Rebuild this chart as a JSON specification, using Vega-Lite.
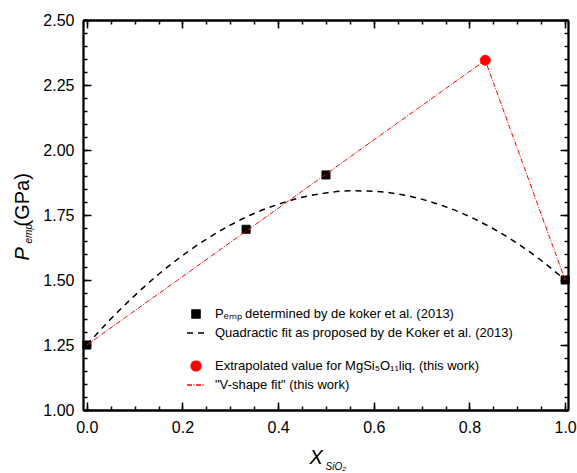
{
  "$schema": "https://vega.github.io/schema/vega-lite/v6.json",
  "width": 485,
  "height": 390,
  "autosize": {"type": "none"},
  "padding": {"left": 83, "top": 20, "right": 9, "bottom": 63},
  "background": "white",
  "config": {
    "view": {"stroke": null},
    "font": "Liberation Sans",
    "axis": {
      "grid": false,
      "domainColor": "black",
      "domainWidth": 1.8,
      "tickColor": "black",
      "tickWidth": 1.5,
      "labelFont": "Liberation Sans",
      "labelFontSize": 16,
      "labelColor": "black",
      "titleFont": "Liberation Sans",
      "titleColor": "black",
      "titleFontWeight": "normal"
    }
  },
  "resolve": {
    "axis": {"x": "independent", "y": "independent"},
    "scale": {"fill": "independent", "stroke": "independent", "shape": "independent", "strokeDash": "independent"},
    "legend": {"fill": "independent", "stroke": "independent", "shape": "independent", "strokeDash": "independent"}
  },
  "layer": [
    {
      "data": {"values": [
        {"x": 0, "y": 1.25}, {"x": 0.05, "y": 1.35}, {"x": 0.1, "y": 1.44}, {"x": 0.15, "y": 1.522},
        {"x": 0.2, "y": 1.594}, {"x": 0.25, "y": 1.657}, {"x": 0.3, "y": 1.711}, {"x": 0.35, "y": 1.756},
        {"x": 0.4, "y": 1.791}, {"x": 0.45, "y": 1.818}, {"x": 0.5, "y": 1.835}, {"x": 0.55, "y": 1.843},
        {"x": 0.6, "y": 1.841}, {"x": 0.65, "y": 1.831}, {"x": 0.7, "y": 1.811}, {"x": 0.75, "y": 1.782},
        {"x": 0.8, "y": 1.744}, {"x": 0.85, "y": 1.697}, {"x": 0.9, "y": 1.641}, {"x": 0.95, "y": 1.575},
        {"x": 1, "y": 1.5}
      ]},
      "mark": {"type": "line", "color": "black", "strokeWidth": 1.5, "strokeDash": [6, 5], "interpolate": "monotone"},
      "encoding": {
        "x": {"field": "x", "type": "quantitative",
          "scale": {"domain": [-0.008, 1.006], "nice": false, "zero": false},
          "axis": {"orient": "bottom", "values": [0, 0.2, 0.4, 0.6, 0.8, 1], "format": ".1f",
            "tickSize": -8, "labelPadding": 17,
            "title": "X", "titleFontSize": 20, "titleFontStyle": "italic",
            "titleX": 226, "titleY": 53, "titleAlign": "left", "titleBaseline": "alphabetic", "titleAngle": 0}},
        "y": {"field": "y", "type": "quantitative",
          "scale": {"domain": [1, 2.5], "nice": false, "zero": false},
          "axis": {"orient": "left", "values": [1, 1.25, 1.5, 1.75, 2, 2.25, 2.5], "format": ".2f",
            "tickSize": -8, "labelPadding": 17,
            "title": "P", "titleFontSize": 20, "titleFontStyle": "italic", "titleAngle": 270,
            "titleX": -55, "titleY": 240, "titleAlign": "left", "titleBaseline": "alphabetic"}}
      }
    },
    {
      "data": {"values": [
        {"x": 0, "y": 1.25, "s": "Pₑₘₚ determined by de koker et al. (2013)"},
        {"x": 0.333, "y": 1.695, "s": "Pₑₘₚ determined by de koker et al. (2013)"},
        {"x": 0.5, "y": 1.904, "s": "Pₑₘₚ determined by de koker et al. (2013)"},
        {"x": 1, "y": 1.5, "s": "Pₑₘₚ determined by de koker et al. (2013)"}
      ]},
      "mark": {"type": "point", "filled": true, "size": 324, "strokeWidth": 1, "opacity": 1},
      "encoding": {
        "x": {"field": "x", "type": "quantitative",
          "scale": {"domain": [-0.008, 1.006], "nice": false, "zero": false},
          "axis": {"orient": "top", "values": [0, 0.2, 0.4, 0.6, 0.8, 1], "tickSize": -8, "labels": false, "title": null}},
        "y": {"field": "y", "type": "quantitative",
          "scale": {"domain": [1, 2.5], "nice": false, "zero": false},
          "axis": {"orient": "right", "values": [1, 1.25, 1.5, 1.75, 2, 2.25, 2.5], "tickSize": -8, "labels": false,
            "title": "(GPa)", "titleFontSize": 20, "titleFontStyle": "normal", "titleAngle": 270,
            "titleX": -540, "titleY": 206, "titleAlign": "left", "titleBaseline": "alphabetic"}},
        "fill": {"field": "s", "type": "nominal",
          "scale": {"domain": ["Pₑₘₚ determined by de koker et al. (2013)", "Quadractic fit as proposed by de Koker et al. (2013)"], "range": ["black", "black"]},
          "legend": {"orient": "none", "legendX": 103, "legendY": 284, "title": null, "padding": 0,
            "symbolSize": 324, "symbolStrokeWidth": 1.5, "rowPadding": 1, "labelFont": "Liberation Sans", "labelFontSize": 13,
            "labelColor": "black", "labelOffset": 9, "labelLimit": 0}},
        "stroke": {"field": "s", "type": "nominal",
          "scale": {"domain": ["Pₑₘₚ determined by de koker et al. (2013)", "Quadractic fit as proposed by de Koker et al. (2013)"], "range": ["black", "black"]},
          "legend": {"orient": "none", "legendX": 103, "legendY": 284, "title": null, "padding": 0,
            "symbolSize": 324, "symbolStrokeWidth": 1.5, "rowPadding": 1, "labelFont": "Liberation Sans", "labelFontSize": 13,
            "labelColor": "black", "labelOffset": 9, "labelLimit": 0}},
        "shape": {"field": "s", "type": "nominal",
          "scale": {"domain": ["Pₑₘₚ determined by de koker et al. (2013)", "Quadractic fit as proposed by de Koker et al. (2013)"], "range": ["M-0.45,-0.45H0.45V0.45H-0.45Z", "M-1,0H1"]},
          "legend": {"orient": "none", "legendX": 103, "legendY": 284, "title": null, "padding": 0,
            "symbolSize": 324, "symbolStrokeWidth": 1.5, "rowPadding": 1, "labelFont": "Liberation Sans", "labelFontSize": 13,
            "labelColor": "black", "labelOffset": 9, "labelLimit": 0}},
        "strokeDash": {"field": "s", "type": "nominal",
          "scale": {"domain": ["Pₑₘₚ determined by de koker et al. (2013)", "Quadractic fit as proposed by de Koker et al. (2013)"], "range": [[1, 0], [6, 5]]},
          "legend": {"orient": "none", "legendX": 103, "legendY": 284, "title": null, "padding": 0,
            "symbolSize": 324, "symbolStrokeWidth": 1.5, "rowPadding": 1, "labelFont": "Liberation Sans", "labelFontSize": 13,
            "labelColor": "black", "labelOffset": 9, "labelLimit": 0}}
      }
    },
    {
      "data": {"values": [
        {"x": 0, "y": 1.25}, {"x": 0.833, "y": 2.345}, {"x": 1, "y": 1.5}
      ]},
      "mark": {"type": "line", "color": "red", "strokeWidth": 1, "strokeDash": [5, 1.5, 1, 1.5]},
      "encoding": {
        "x": {"field": "x", "type": "quantitative",
          "scale": {"domain": [-0.008, 1.006], "nice": false, "zero": false},
          "axis": {"orient": "bottom", "values": [0, 0.05, 0.1, 0.15, 0.2, 0.25, 0.3, 0.35, 0.4, 0.45, 0.5, 0.55, 0.6, 0.65, 0.7, 0.75, 0.8, 0.85, 0.9, 0.95, 1],
            "tickSize": -4, "labels": false,
            "title": "SiO₂", "titleFontSize": 10, "titleFontStyle": "italic",
            "titleX": 242, "titleY": 59, "titleAlign": "left", "titleBaseline": "alphabetic", "titleAngle": 0}},
        "y": {"field": "y", "type": "quantitative",
          "scale": {"domain": [1, 2.5], "nice": false, "zero": false},
          "axis": {"orient": "left", "values": [1, 1.05, 1.1, 1.15, 1.2, 1.25, 1.3, 1.35, 1.4, 1.45, 1.5, 1.55, 1.6, 1.65, 1.7, 1.75, 1.8, 1.85, 1.9, 1.95, 2, 2.05, 2.1, 2.15, 2.2, 2.25, 2.3, 2.35, 2.4, 2.45, 2.5],
            "tickSize": -4, "labels": false,
            "title": "emp", "titleFontSize": 10, "titleFontStyle": "italic", "titleAngle": 270,
            "titleX": -52, "titleY": 223, "titleAlign": "left", "titleBaseline": "alphabetic"}}
      }
    },
    {
      "data": {"values": [
        {"x": 0.833, "y": 2.345, "s": "Extrapolated value for MgSi₅O₁₁liq. (this work)"}
      ]},
      "mark": {"type": "point", "filled": true, "size": 324, "strokeWidth": 1, "opacity": 1},
      "encoding": {
        "x": {"field": "x", "type": "quantitative",
          "scale": {"domain": [-0.008, 1.006], "nice": false, "zero": false},
          "axis": {"orient": "top", "values": [0, 0.05, 0.1, 0.15, 0.2, 0.25, 0.3, 0.35, 0.4, 0.45, 0.5, 0.55, 0.6, 0.65, 0.7, 0.75, 0.8, 0.85, 0.9, 0.95, 1],
            "tickSize": -4, "labels": false, "title": null}},
        "y": {"field": "y", "type": "quantitative",
          "scale": {"domain": [1, 2.5], "nice": false, "zero": false},
          "axis": {"orient": "right", "values": [1, 1.05, 1.1, 1.15, 1.2, 1.25, 1.3, 1.35, 1.4, 1.45, 1.5, 1.55, 1.6, 1.65, 1.7, 1.75, 1.8, 1.85, 1.9, 1.95, 2, 2.05, 2.1, 2.15, 2.2, 2.25, 2.3, 2.35, 2.4, 2.45, 2.5],
            "tickSize": -4, "labels": false, "title": null}},
        "fill": {"field": "s", "type": "nominal",
          "scale": {"domain": ["Extrapolated value for MgSi₅O₁₁liq. (this work)", "\"V-shape fit\" (this work)"], "range": ["red", "red"]},
          "legend": {"orient": "none", "legendX": 103, "legendY": 336, "title": null, "padding": 0,
            "symbolSize": 324, "symbolStrokeWidth": 1.3, "rowPadding": 1, "labelFont": "Liberation Sans", "labelFontSize": 13,
            "labelColor": "black", "labelOffset": 9, "labelLimit": 0}},
        "stroke": {"field": "s", "type": "nominal",
          "scale": {"domain": ["Extrapolated value for MgSi₅O₁₁liq. (this work)", "\"V-shape fit\" (this work)"], "range": ["red", "red"]},
          "legend": {"orient": "none", "legendX": 103, "legendY": 336, "title": null, "padding": 0,
            "symbolSize": 324, "symbolStrokeWidth": 1.3, "rowPadding": 1, "labelFont": "Liberation Sans", "labelFontSize": 13,
            "labelColor": "black", "labelOffset": 9, "labelLimit": 0}},
        "shape": {"field": "s", "type": "nominal",
          "scale": {"domain": ["Extrapolated value for MgSi₅O₁₁liq. (this work)", "\"V-shape fit\" (this work)"], "range": ["M-0.55,0A0.55,0.55,0,1,1,0.55,0A0.55,0.55,0,1,1,-0.55,0Z", "M-1,0H1"]},
          "legend": {"orient": "none", "legendX": 103, "legendY": 336, "title": null, "padding": 0,
            "symbolSize": 324, "symbolStrokeWidth": 1.3, "rowPadding": 1, "labelFont": "Liberation Sans", "labelFontSize": 13,
            "labelColor": "black", "labelOffset": 9, "labelLimit": 0}},
        "strokeDash": {"field": "s", "type": "nominal",
          "scale": {"domain": ["Extrapolated value for MgSi₅O₁₁liq. (this work)", "\"V-shape fit\" (this work)"], "range": [[1, 0], [5, 1.5, 1, 1.5]]},
          "legend": {"orient": "none", "legendX": 103, "legendY": 336, "title": null, "padding": 0,
            "symbolSize": 324, "symbolStrokeWidth": 1.3, "rowPadding": 1, "labelFont": "Liberation Sans", "labelFontSize": 13,
            "labelColor": "black", "labelOffset": 9, "labelLimit": 0}}
      }
    }
  ]
}
